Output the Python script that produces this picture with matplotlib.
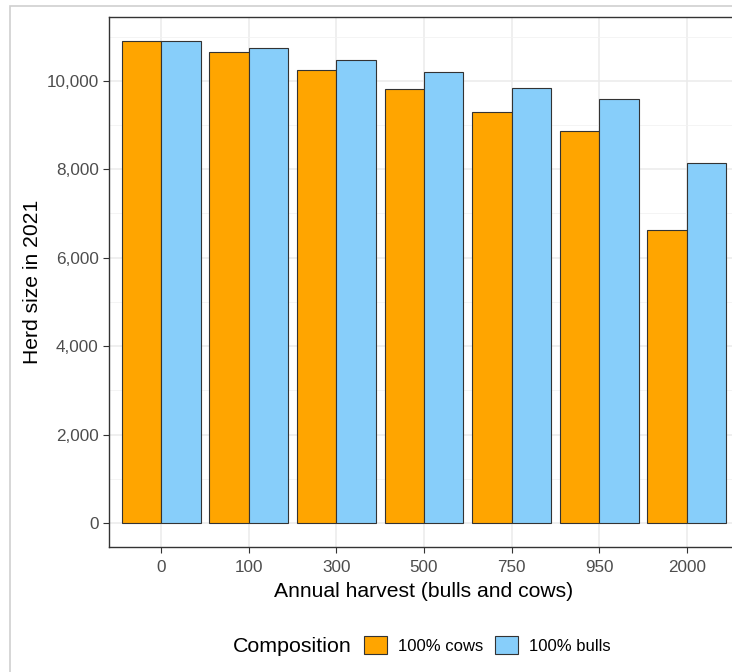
import numpy as np
import matplotlib.pyplot as plt
from matplotlib.patches import Rectangle, Patch

plt.rcParams['font.family'] = ['Liberation Sans', 'DejaVu Sans']

harvest = ['0', '100', '300', '500', '750', '950', '2000']
cows = [10900, 10660, 10240, 9820, 9285, 8865, 6625]
bulls = [10900, 10750, 10475, 10195, 9840, 9590, 8140]
series = ['100% cows', '100% bulls']
colors = ['#FFA500', '#87CEFA']

fig = plt.figure(figsize=(7.32, 6.72), dpi=100)
# panel runs past the right edge, as in the cropped screenshot
ax = fig.add_axes([108.5 / 732, 125 / 672, 631 / 732, 530 / 672])

x = np.arange(1, len(harvest) + 1)
w = 0.45
ax.bar(x - w / 2, cows, width=w, color=colors[0], edgecolor='#333333', linewidth=0.8, zorder=3)
ax.bar(x + w / 2, bulls, width=w, color=colors[1], edgecolor='#333333', linewidth=0.8, zorder=3)

top = max(max(cows), max(bulls))
ax.set_xlim(0.4, len(harvest) + 0.6)
ax.set_ylim(-0.05 * top, 1.05 * top)

ax.set_xticks(x)
ax.set_xticklabels(harvest)
yt = np.arange(0, 10001, 2000)
ax.set_yticks(yt)
ax.set_yticklabels([f'{v:,}' for v in yt])
ax.set_yticks(np.arange(1000, 11001, 2000), minor=True)

ax.grid(which='major', color='#EBEBEB', linewidth=1.1, zorder=0)
ax.grid(which='minor', axis='y', color='#F2F2F2', linewidth=0.6, zorder=0)
ax.set_axisbelow(True)

for s in ax.spines.values():
    s.set_color('#333333')
    s.set_linewidth(1.0)
ax.tick_params(which='major', colors='#333333', length=4, width=0.8, labelsize=12.3,
               labelcolor='#4D4D4D', pad=3)
ax.tick_params(axis='x', which='major', pad=5.2)
ax.tick_params(which='minor', length=0)

ax.set_xlabel('Annual harvest (bulls and cows)', fontsize=15.2, labelpad=5)
ax.set_ylabel('Herd size in 2021', fontsize=15.2, labelpad=3)

# legend at the bottom
handles = [Patch(facecolor=c, edgecolor='#333333', linewidth=0.8) for c in colors]
fig.legend(handles, series, ncol=2, loc='center left', bbox_to_anchor=(349 / 732, 1 - 645 / 672),
           frameon=False, fontsize=12, handlelength=1.35, handleheight=1.25,
           handletextpad=0.7, columnspacing=0.7)
fig.text(233 / 732, 1 - 646 / 672, 'Composition', fontsize=15.4, va='center', ha='left')

# light frame of the screenshot
fig.patches.append(Rectangle((10 / 732, -0.1), 1.2, 1 - 6 / 672 + 0.1, transform=fig.transFigure,
                             fill=False, edgecolor='#CFCFCF', linewidth=1.2))

fig.savefig('out.png', dpi=100)
